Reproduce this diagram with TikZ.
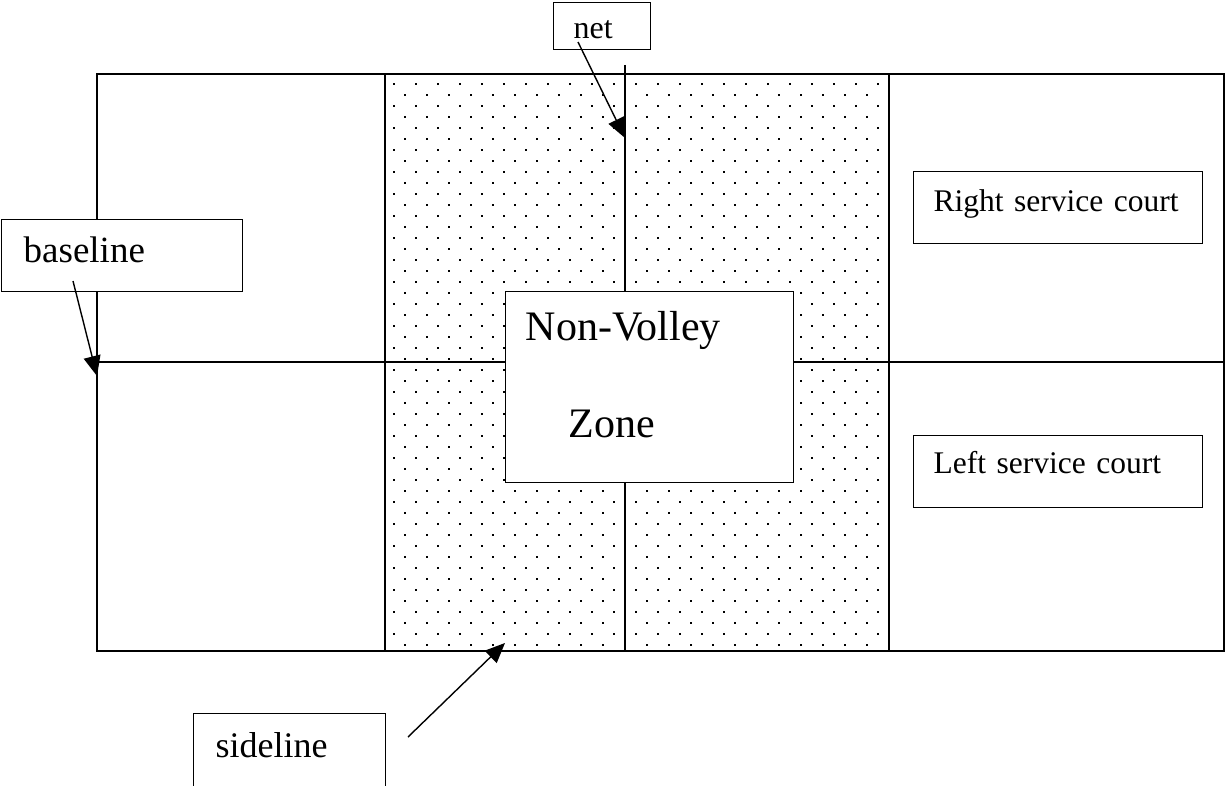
\documentclass[tikz,border=0pt]{standalone}
\usepackage{fontspec}
\setmainfont{Liberation Serif}
\usetikzlibrary{arrows.meta}

\tikzset{
    courtline/.style={line width=1.6pt},
    labelbox/.style={draw, line width=1.4pt, fill=white, anchor=north west,
        inner ysep=0pt, align=left},
    pointer/.style={line width=1.4pt, -{Triangle[length=20pt,width=17pt]}}
}

\begin{document}
\begin{tikzpicture}[x=1pt,y=-1pt]
    \useasboundingbox (0,0) rectangle (1225,786);

    % dotted kitchen area
    \begin{scope}
        \clip (385,74) rectangle (889,651);
        \foreach \r in {0,...,51}
            \foreach \c in {0,...,22} {
                \pgfmathsetmacro\dx{394 + 22*\c + 11*mod(\r,2)}
                \pgfmathsetmacro\dy{84 + 11*\r}
                \fill (\dx-1.1,\dy-1.1) rectangle (\dx+1.1,\dy+1.1);
            }
    \end{scope}

    % court lines
    \draw[courtline] (97,74) rectangle (1224,651);
    \draw[courtline] (385,74) -- (385,651);
    \draw[courtline] (889,74) -- (889,651);
    \draw[courtline] (97,362) -- (1224,362);
    \draw[courtline] (625,65) -- (625,651);

    % labels
    \node[labelbox, inner xsep=20pt, text width=57pt, text height=36pt,
        text depth=11pt, font=\fontsize{32}{38}\selectfont] (net) at (553,2) {net};
    \node[labelbox, inner xsep=22pt, text width=197pt, text height=43pt,
        text depth=29pt, font=\fontsize{37}{44}\selectfont] (baseline) at (1,219) {baseline};
    \node[labelbox, inner xsep=20pt, text width=248pt, text height=49pt,
        text depth=142pt, font=\fontsize{42}{97}\selectfont] (nvz) at (505,291)
        {Non-Volley\\\hspace*{43pt}Zone};
    \node[labelbox, inner xsep=20pt, text width=249pt, text height=40pt,
        text depth=32pt, font=\fontsize{31.5}{38}\selectfont] (rightcourt) at (913,171)
        {Right service court};
    \node[labelbox, inner xsep=20pt, text width=249pt, text height=38pt,
        text depth=34pt, font=\fontsize{31.5}{38}\selectfont] (leftcourt) at (913,435)
        {Left service court};
    \node[labelbox, inner xsep=22pt, text width=148pt, text height=44pt,
        text depth=40pt, font=\fontsize{36}{43}\selectfont] (sideline) at (193,713) {sideline};

    % pointers
    \coordinate (netfrom) at (578,42);
    \coordinate (netto) at (625,138);
    \coordinate (basefrom) at (73,281);
    \coordinate (baseto) at (97,376);
    \coordinate (sidefrom) at (408,737);
    \coordinate (sideto) at (505,643);
    \draw[pointer] (netfrom) -- (netto);
    \draw[pointer] (basefrom) -- (baseto);
    \draw[pointer] (sidefrom) -- (sideto);
\end{tikzpicture}
\end{document}
